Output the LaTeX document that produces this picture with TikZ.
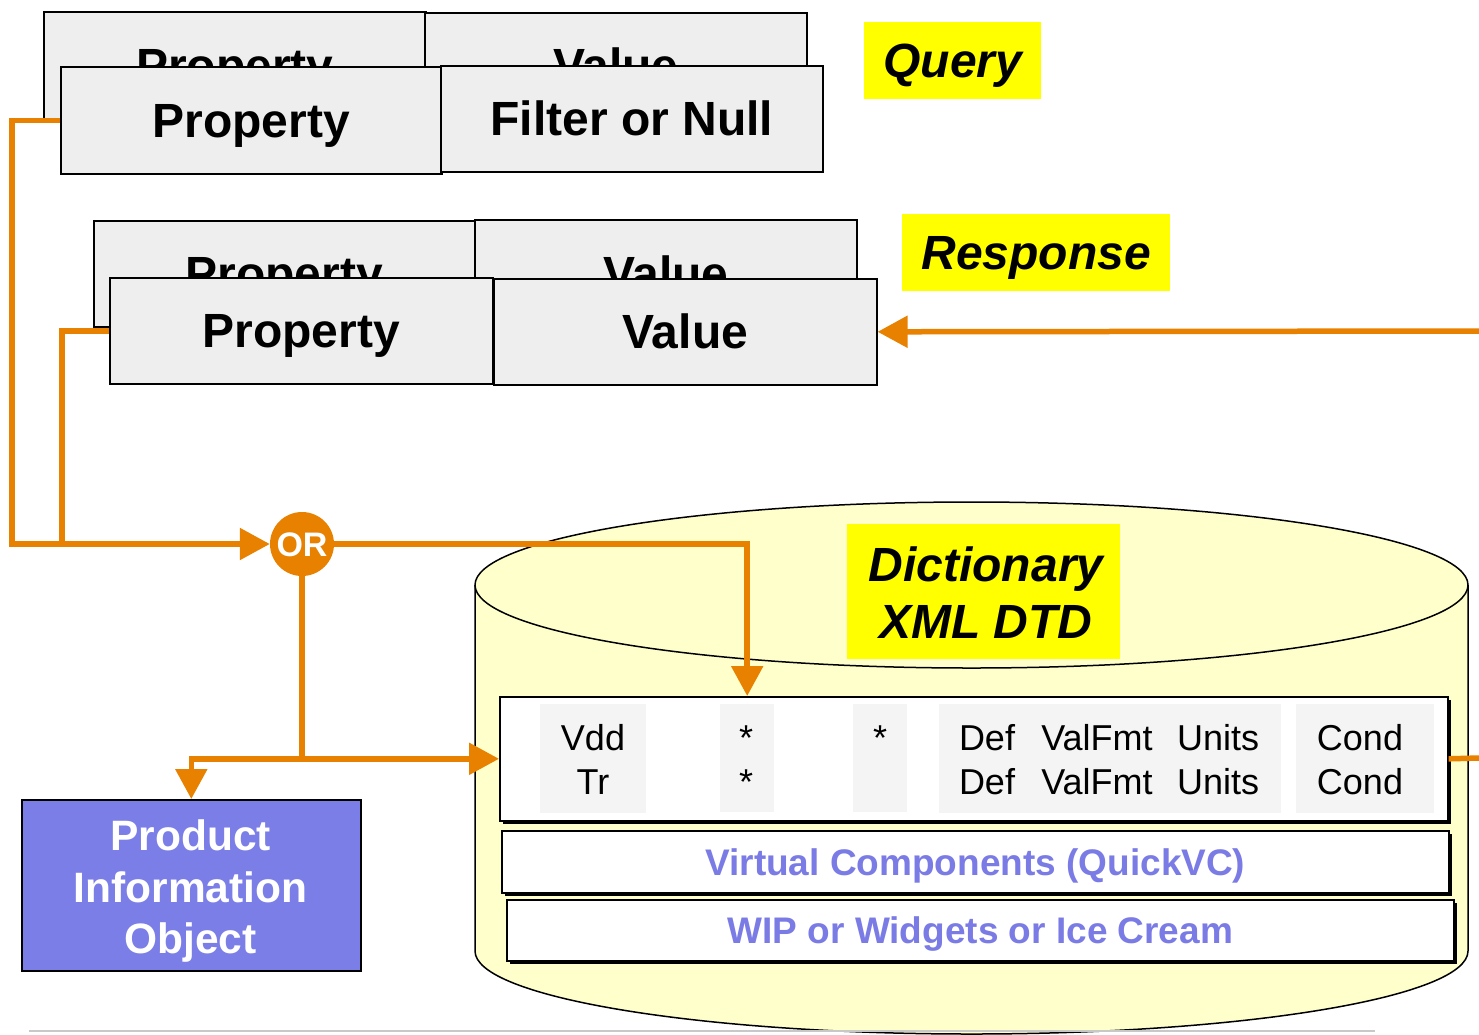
\documentclass[tikz,border=0pt]{standalone}
\usepackage{fontspec}
\setmainfont{Liberation Sans}
\usetikzlibrary{arrows.meta,shadows}
\definecolor{org}{RGB}{232,128,0}
\definecolor{boxgray}{RGB}{238,238,238}
\definecolor{cellgray}{RGB}{244,244,244}
\definecolor{cylfill}{RGB}{255,255,204}
\definecolor{labfill}{RGB}{255,255,0}
\definecolor{piofill}{RGB}{123,126,230}
\definecolor{vctext}{RGB}{123,123,230}
\definecolor{rulegray}{RGB}{200,200,200}
\newcommand\myfs[2]{\fontsize{#1}{#2}\selectfont}
\begin{document}
\begin{tikzpicture}[x=1pt,y=-1pt,
  gbox/.style={draw, line width=1.6pt, fill=boxgray, inner sep=0pt, anchor=north west,
    font=\bfseries\myfs{48}{56}, text height=34pt, text depth=0pt},
  lbox/.style={fill=labfill, inner sep=0pt, anchor=north west,
    font=\bfseries\itshape\myfs{48}{56}, text height=34pt, text depth=0pt},
  ltext/.style={anchor=base, font=\bfseries\itshape\myfs{48}{56}},
  ctext/.style={anchor=base, font=\myfs{36}{42}},
  ptext/.style={anchor=base, text=white, font=\bfseries\myfs{42.5}{52}},
  cell/.style={fill=cellgray, inner sep=0pt, anchor=north west},
  wbox/.style={draw, line width=1.6pt, fill=white, inner sep=0pt, anchor=north west,
    drop shadow={shadow xshift=3pt, shadow yshift=-3pt, fill=black, opacity=1}},
  vtext/.style={text=vctext, font=\bfseries\myfs{37}{42}, text height=26.5pt, text depth=0pt},
  oline/.style={draw=org, line width=5.5pt},
  oarrow/.style={oline, -{Triangle[length=30pt,width=31pt]}},
]
\useasboundingbox (0,0) rectangle (1479,1034);

% cylinder
\fill[cylfill] (475,585) -- (475,951) arc[start angle=180,end angle=360,x radius=496.5pt,y radius=83pt]
  -- (1468,585) arc[start angle=0,end angle=180,x radius=496.5pt,y radius=83pt] -- cycle;
\draw[line width=1.5pt] (475,585) -- (475,951) arc[start angle=180,end angle=360,x radius=496.5pt,y radius=83pt] -- (1468,585);
\draw[line width=1.5pt] (971.5,585) ellipse [x radius=496.5pt, y radius=83pt];

% dictionary label
\node[lbox, minimum width=273pt, minimum height=135pt] (dlab) at (847,524) {};
\node[ltext] (dtext1) at (986,581) {Dictionary};
\node[ltext] (dtext2) at (986,638) {XML DTD};

% table
\node[wbox, minimum width=948pt, minimum height=124pt] (table) at (499,696) {};
\node[cell, minimum width=106pt, minimum height=109pt] (c1) at (540,704) {};
\node[cell, minimum width=54pt, minimum height=108pt] (stars) at (720,704) {};
\node[cell, minimum width=54pt, minimum height=108pt] (c3) at (853,704) {};
\node[cell, minimum width=342pt, minimum height=109pt] (c4) at (939,704) {};
\node[cell, minimum width=138pt, minimum height=109pt] (c5) at (1296,704) {};
\node[ctext] (t11) at (593,750) {Vdd};
\node[ctext] (t12) at (593,794) {Tr};
\node[ctext] (t21) at (746,750) {*};
\node[ctext] (t22) at (746,794) {*};
\node[ctext] (t31) at (880,750) {*};
\node[ctext] (t41) at (987,750) {Def};
\node[ctext] (t42) at (987,794) {Def};
\node[ctext] (t51) at (1097,750) {ValFmt};
\node[ctext] (t52) at (1097,794) {ValFmt};
\node[ctext] (t61) at (1218,750) {Units};
\node[ctext] (t62) at (1218,794) {Units};
\node[ctext] (t71) at (1360,750) {Cond};
\node[ctext] (t72) at (1360,794) {Cond};

\node[wbox, vtext, minimum width=947pt, minimum height=62pt] (vc) at (501,830) {Virtual Components (QuickVC)};
\node[wbox, vtext, minimum width=947pt, minimum height=61pt] (wip) at (506,899) {WIP or Widgets or Ice Cream};

% query
\node[lbox, minimum width=177pt, minimum height=77pt] (qlab) at (864,22) {Query};
\node[gbox, minimum width=382pt, minimum height=107pt] (qbprop) at (43,11) {Property};
\node[gbox, minimum width=382pt, minimum height=106pt] (qbval) at (424,12) {Value};
\node[gbox, minimum width=381pt, minimum height=107pt] (qprop) at (60,66) {Property};
\node[gbox, minimum width=382pt, minimum height=106pt] (qfilt) at (440,65) {Filter or Null};

% response
\node[lbox, minimum width=268pt, minimum height=77pt] (rlab) at (902,214) {Response};
\node[gbox, minimum width=381pt, minimum height=106pt] (rbprop) at (93,220) {Property};
\node[gbox, minimum width=382pt, minimum height=107pt] (rbval) at (474,219) {Value};
\node[gbox, minimum width=383pt, minimum height=106pt] (rprop) at (109,277) {Property};
\node[gbox, minimum width=383pt, minimum height=106pt] (rval) at (493,278) {Value};

% product information object
\node[draw, line width=1.6pt, fill=piofill, inner sep=0pt, anchor=north west,
  minimum width=339pt, minimum height=171pt] (pio) at (21,799) {};
\node[ptext] (p1) at (190.5,850) {Product};
\node[ptext] (p2) at (190.5,902) {Information};
\node[ptext] (p3) at (190.5,953) {Object};

% OR
\node[circle, fill=org, minimum size=64pt, inner sep=0pt, text=white,
  font=\bfseries\myfs{34}{40}, text height=24pt, text depth=0pt] (or) at (302,544) {OR};

\coordinate (rjoin) at (62,544);
\coordinate (rin) at (1479,331);
\coordinate (tout) at (1479,758);

% connectors
\draw[oarrow] (qprop.west) -- ++(-48,0) |- (or.west);
\draw[oline] (rprop.west) -| (rjoin);
\draw[oarrow] (or.east) -| (stars.north |- table.north);
\draw[oarrow] (or.south) |- (table.west);
\draw[oarrow] (or.south |- table.west) -| (pio.north);
\draw[oarrow] (rin) -- (rval.east);
\draw[oline] (table.east) -- (tout);

\draw[rulegray, line width=2pt] (29,1031) -- (1375,1031);
\end{tikzpicture}
\end{document}
